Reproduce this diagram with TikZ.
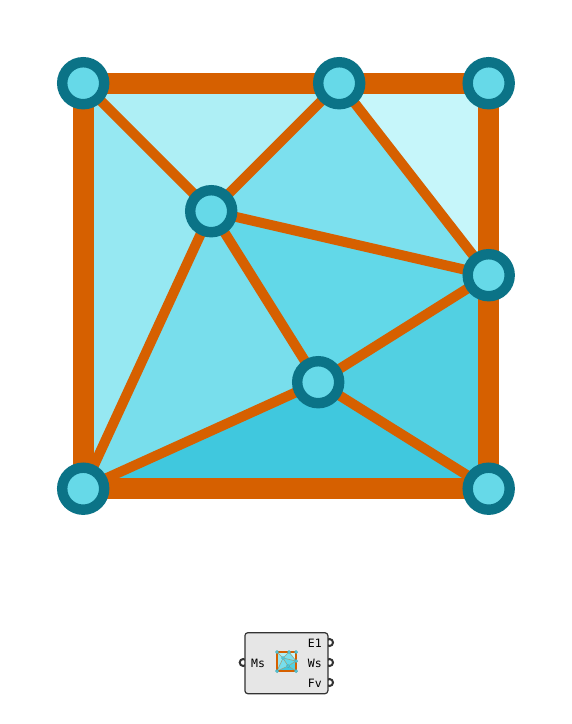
\documentclass[tikz,border=0pt]{standalone}
\usepackage{fontspec}
\setmonofont{DejaVu Sans Mono}
\usepackage{xcolor}
\usetikzlibrary{backgrounds}
\definecolor{meshorange}{HTML}{D66000}
\definecolor{ringteal}{HTML}{0B7387}
\definecolor{dotcyan}{HTML}{66D9E8}
\definecolor{faceA}{HTML}{AEEFF5}
\definecolor{faceB}{HTML}{C6F6FA}
\definecolor{faceC}{HTML}{7CE0EE}
\definecolor{faceD}{HTML}{96E8F2}
\definecolor{faceE}{HTML}{78DEEC}
\definecolor{faceF}{HTML}{62D8E8}
\definecolor{faceG}{HTML}{52D0E2}
\definecolor{faceH}{HTML}{40C8DE}
\definecolor{compgrey}{HTML}{E6E6E6}
\definecolor{compdark}{HTML}{333333}

% one mesh: #1 is the prefix of its node names
\newcommand{\meshgraph}[1]{%
  \node[vert] (#1a) at (83.2,83.2) {};
  \node[vert] (#1b) at (339.2,83.2) {};
  \node[vert] (#1c) at (488.7,83.2) {};
  \node[vert] (#1d) at (488.7,275.2) {};
  \node[vert] (#1e) at (211.2,211.2) {};
  \node[vert] (#1f) at (318.2,382.2) {};
  \node[vert] (#1g) at (83.2,488.7) {};
  \node[vert] (#1h) at (488.7,488.7) {};
  \begin{scope}[on background layer]
    \foreach \p/\q/\r/\col in {a/b/e/faceA, b/c/d/faceB, b/d/e/faceC, a/e/g/faceD,
                               e/f/g/faceE, e/d/f/faceF, d/h/f/faceG, f/h/g/faceH}
      \fill[\col] (#1\p.center) -- (#1\q.center) -- (#1\r.center) -- cycle;
    \foreach \p/\q in {a/e, b/e, e/d, b/d, e/g, e/f, f/d, f/g, f/h}
      \draw[inedge] (#1\p) -- (#1\q);
    \draw[outedge] (#1a.center) -- (#1c.center) -- (#1h.center) -- (#1g.center) -- cycle;
  \end{scope}
}

\begin{document}
\begin{tikzpicture}[
  x=1pt, y=-1pt,
  font=\ttfamily\fontsize{11.5}{13}\selectfont,
  vert/.style={circle, draw=ringteal, line width=10.4pt, fill=dotcyan,
               minimum size=42pt, inner sep=0pt, outer sep=0pt},
  inedge/.style={meshorange, line width=10pt},
  outedge/.style={meshorange, line width=21.3pt, line join=miter},
  compbox/.style={rectangle, rounded corners=3pt, draw=compdark, line width=1.2pt,
                  fill=compgrey, minimum width=83pt, minimum height=61pt,
                  inner sep=0pt},
  port/.style={circle, draw=compdark, line width=2pt, fill=white,
               minimum size=7pt, inner sep=0pt}]
\useasboundingbox (0,0) rectangle (572,724);

\begin{scope}[on background layer]
  \fill[white] (0,0) rectangle (572,724);
  \node[port] (pms) at (243.2,662.5) {};
  \node[port] (pel) at (329.5,642.5) {};
  \node[port] (pws) at (329.5,662.5) {};
  \node[port] (pfv) at (329.5,682.5) {};
  \node[compbox] (comp) at (286.4,663.2) {};
\end{scope}
\node[anchor=west, inner sep=0pt] (ms) at (251,663.5) {Ms};
\node[anchor=east, inner sep=0pt] (el) at (322,643.5) {E1};
\node[anchor=east, inner sep=0pt] (ws) at (322,663.5) {Ws};
\node[anchor=east, inner sep=0pt] (fv) at (322,683.5) {Fv};

\meshgraph{}

% the same mesh as the icon of the component
\begin{scope}[shift={(273.1,648.1)}, x=0.047pt, y=-0.047pt,
  vert/.style={circle, draw=ringteal!45!dotcyan, line width=0.6pt, fill=dotcyan,
               minimum size=3pt, inner sep=0pt, outer sep=0pt},
  inedge/.style={meshorange!45!dotcyan, line width=0.6pt},
  outedge/.style={meshorange, line width=1.3pt}]
  \meshgraph{i}
\end{scope}
\end{tikzpicture}
\end{document}
